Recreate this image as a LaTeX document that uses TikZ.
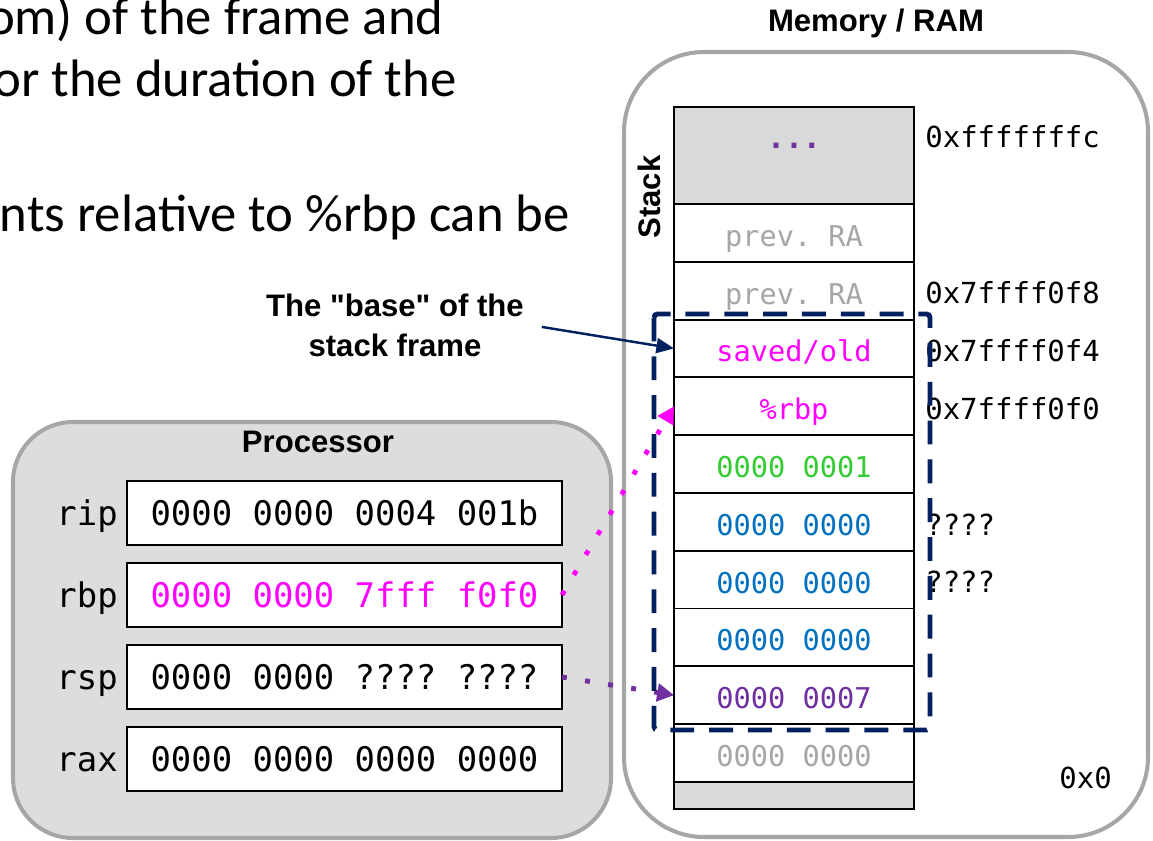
\documentclass[tikz,border=0pt]{standalone}
\usepackage{fontspec}
\setmainfont{Liberation Sans}[Ligatures=TeXOff]
\setmonofont{DejaVu Sans Mono}
\newfontfamily\slidefont{Carlito}
\usetikzlibrary{positioning,arrows.meta}
\definecolor{boxgray}{HTML}{A6A6A6}
\definecolor{cpugray}{HTML}{DDDDDD}
\definecolor{cellgray}{HTML}{D9D9D9}
\definecolor{txtgray}{HTML}{A6A6A6}
\definecolor{rbpmag}{HTML}{FF00FF}
\definecolor{valgreen}{HTML}{33CC33}
\definecolor{valblue}{HTML}{0070C0}
\definecolor{valpurple}{HTML}{7030A0}
\definecolor{navy}{HTML}{002060}

\begin{document}
\begin{tikzpicture}[x=0.02cm,y=-0.02cm,
    cell/.style={draw,line width=1.1pt,minimum width=4.8cm,minimum height=1.156cm,
      inner sep=0pt,outer sep=0pt,text height=15.3pt,text depth=0pt,
      font=\fontsize{16.3}{18}\ttfamily},
    reg/.style={draw,line width=1.1pt,fill=white,minimum width=8.7cm,minimum height=1.28cm,
      inner sep=0pt,outer sep=0pt,text height=14.1pt,text depth=0pt,
      font=\fontsize{19.3}{22}\ttfamily},
    regname/.style={inner sep=0pt,text height=14.1pt,text depth=0pt,
      font=\fontsize{19.3}{22}\ttfamily},
    addr/.style={inner sep=0pt,anchor=west,text height=15pt,text depth=0pt,
      font=\fontsize{16.5}{18}\ttfamily},
    title/.style={font=\fontsize{17.7}{21}\selectfont\bfseries},
    ptr/.style={line width=2.8pt,dash pattern=on 2.8pt off 10.5pt,
      -{Triangle[length=9.6pt,width=10pt]}},
  ]
    \useasboundingbox (0,0) rectangle (1153,841);

    % Slide text (cut off on the left)
    \node[anchor=base east,inner sep=0pt,font=\fontsize{30}{34}\slidefont] (txta) at (444,35) {om) of the frame and};
    \node[anchor=base east,inner sep=0pt,font=\fontsize{30}{34}\slidefont] (txtb) at (457,97) {or the duration of the};
    \node[anchor=base east,inner sep=0pt,font=\fontsize{30}{34}\slidefont] (txtc) at (570,232) {nts relative to \%rbp can be};

    % Memory
    \draw[boxgray,line width=2.3pt,fill=white,rounded corners=1.6cm] (624,52) rectangle (1148,837);
    \node[title] (memlbl) at (876,23) {Memory / RAM};
    \node[title,rotate=90] (stacklbl) at (649,197) {Stack};

    % Stack cells, top to bottom
    \node[cell,fill=cellgray,minimum height=1.94cm] (c1) at (794,155.5) {};
    \node[valpurple,anchor=base,inner sep=0pt,font=\fontsize{17}{18}\ttfamily\bfseries] (dots) at (794,149) {...};
    \node[cell,below=0pt of c1,text=txtgray] (c2) {prev. RA};
    \node[cell,below=0pt of c2,text=txtgray] (c3) {prev. RA};
    \node[cell,below=0pt of c3,text=rbpmag] (c4) {saved/old};
    \node[cell,below=0pt of c4,text=rbpmag] (c5) {\%rbp};
    \node[cell,below=0pt of c5,text=valgreen] (c6) {0000 0001};
    \node[cell,below=0pt of c6,text=valblue] (c7) {0000 0000};
    \node[cell,below=0pt of c7,text=valblue] (c8) {0000 0000};
    \node[cell,below=0pt of c8,text=valblue] (c9) {0000 0000};
    \node[cell,below=0pt of c9,text=valpurple] (c10) {0000 0007};
    \node[cell,below=0pt of c10,text=txtgray] (c11) {0000 0000};
    \node[cell,below=0pt of c11,fill=cellgray,minimum height=0.38cm] (c12) {};

    % Addresses
    \node[addr] (addrtop) at (925,134.5) {0xfffffffc};
    \node[addr,right=0.22cm of c3] (addrf8) {0x7ffff0f8};
    \node[addr,right=0.22cm of c4] (addrf4) {0x7ffff0f4};
    \node[addr,right=0.22cm of c5] (addrf0) {0x7ffff0f0};
    \node[addr,right=0.22cm of c7] (unkA) {????};
    \node[addr,right=0.22cm of c8] (unkB) {????};
    \node[addr] (addrzero) at (1059,775.5) {0x0};

    % Processor
    \draw[boxgray,line width=2.3pt,fill=cpugray,rounded corners=1.2cm] (13,422) rectangle (611,838);
    \node[title] (cpulbl) at (318,442) {Processor};
    \node[reg] (regrip) at (344.5,513) {0000 0000 0004 001b};
    \node[reg,below=0.36cm of regrip,text=rbpmag] (regrbp) {0000 0000 7fff f0f0};
    \node[reg,below=0.36cm of regrbp] (regrsp) {0000 0000 ???? ????};
    \node[reg,below=0.36cm of regrsp] (regrax) {0000 0000 0000 0000};
    \node[regname,left=0.18cm of regrip] (nrip) {rip};
    \node[regname,left=0.18cm of regrbp] (nrbp) {rbp};
    \node[regname,left=0.18cm of regrsp] (nrsp) {rsp};
    \node[regname,left=0.18cm of regrax] (nrax) {rax};

    % Pointers into the stack
    \draw[ptr,rbpmag] (regrbp.east) -- (c5.west);
    \draw[ptr,valpurple] (regrsp.east) -- (c10.west);

    % Base of the frame
    \node[title,align=center,font=\fontsize{17.7}{22.7}\selectfont\bfseries] (baselbl) at (395,325) {The "base" of the\\stack frame};
    \draw[navy,line width=1.4pt,shorten <=0.24cm,-{Triangle[length=10pt,width=8.5pt]}] (baselbl.east) -- (c4.west);

    % Stack frame
    \draw[navy,line width=2.8pt,dash pattern=on 13.6pt off 8.5pt,rounded corners=2pt] (654,314) rectangle (930,730);
\end{tikzpicture}
\end{document}
